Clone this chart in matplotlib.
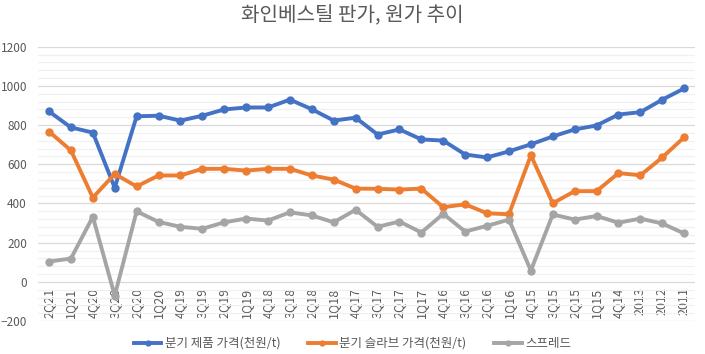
import matplotlib
matplotlib.use("Agg")
import matplotlib.pyplot as plt
from matplotlib.ticker import MultipleLocator

plt.rcParams['font.family'] = ['Noto Sans CJK KR', 'DejaVu Sans']

quarters = ["2Q21", "1Q21", "4Q20", "3Q20", "2Q20", "1Q20", "4Q19", "3Q19", "2Q19", "1Q19",
            "4Q18", "3Q18", "2Q18", "1Q18", "4Q17", "3Q17", "2Q17", "1Q17", "4Q16", "3Q16",
            "2Q16", "1Q16", "4Q15", "3Q15", "2Q15", "1Q15", "4Q14", "2013", "2012", "2011"]

product_price = [870, 788, 762, 480, 845, 848, 823, 848, 880, 890,
                 890, 930, 881, 823, 838, 752, 778, 727, 721, 650,
                 635, 666, 702, 742, 778, 798, 854, 866, 930, 987]

slab_price = [767, 671, 430, 551, 487, 543, 543, 577, 577, 568,
              577, 577, 543, 522, 476, 475, 471, 476, 381, 396,
              350, 345, 646, 401, 463, 463, 555, 544, 635, 738]

spread = [104, 119, 332, -70, 360, 306, 281, 271, 304, 323,
          313, 355, 339, 304, 368, 281, 308, 252, 347, 257,
          286, 318, 58, 344, 318, 336, 302, 323, 298, 247]

series_names = ["분기 제품 가격(천원/t)", "분기 슬라브 가격(천원/t)", "스프레드"]
colors = ["#4472C4", "#ED7D31", "#A5A5A5"]

fig = plt.figure(figsize=(7.05, 3.54), dpi=100)
ax = fig.add_axes([0.054, 0.093, 0.932, 0.775])

x = list(range(len(quarters)))
for vals, name, c in zip([product_price, slab_price, spread], series_names, colors):
    ax.plot(x, vals, color=c, lw=2.8, marker='o', markersize=5, label=name,
            solid_joinstyle='round', zorder=3)

ax.set_xlim(-0.5, len(quarters) - 0.5)
ax.set_ylim(-200, 1200)
ax.yaxis.set_major_locator(MultipleLocator(200))
ax.yaxis.set_minor_locator(MultipleLocator(40))
ax.grid(axis='y', which='major', color='#D9D9D9', lw=0.9, zorder=0)
ax.grid(axis='y', which='minor', color='#F0F0F0', lw=0.9, zorder=0)
ax.set_axisbelow(True)

ax.spines['bottom'].set_position(('data', 0))
ax.set_xticks(x)
ax.set_xticklabels(quarters, rotation=90, fontsize=9, color='#595959')
ax.tick_params(axis='y', labelsize=8.5, labelcolor='#595959', length=0, which='both', pad=8)
ax.tick_params(axis='x', length=0, pad=4)
for s in ax.spines.values():
    s.set_visible(False)

fig.suptitle("화인베스틸 판가, 원가 추이", y=0.985, fontsize=14.5, color='#595959')

fig.legend(loc='center', bbox_to_anchor=(0.5, 0.03), ncol=3, frameon=False,
           fontsize=9, labelcolor='#595959', handlelength=2.2, columnspacing=2.2,
           handletextpad=0.3, borderaxespad=0, markerscale=0.7)

fig.savefig("out.png", dpi=100)
